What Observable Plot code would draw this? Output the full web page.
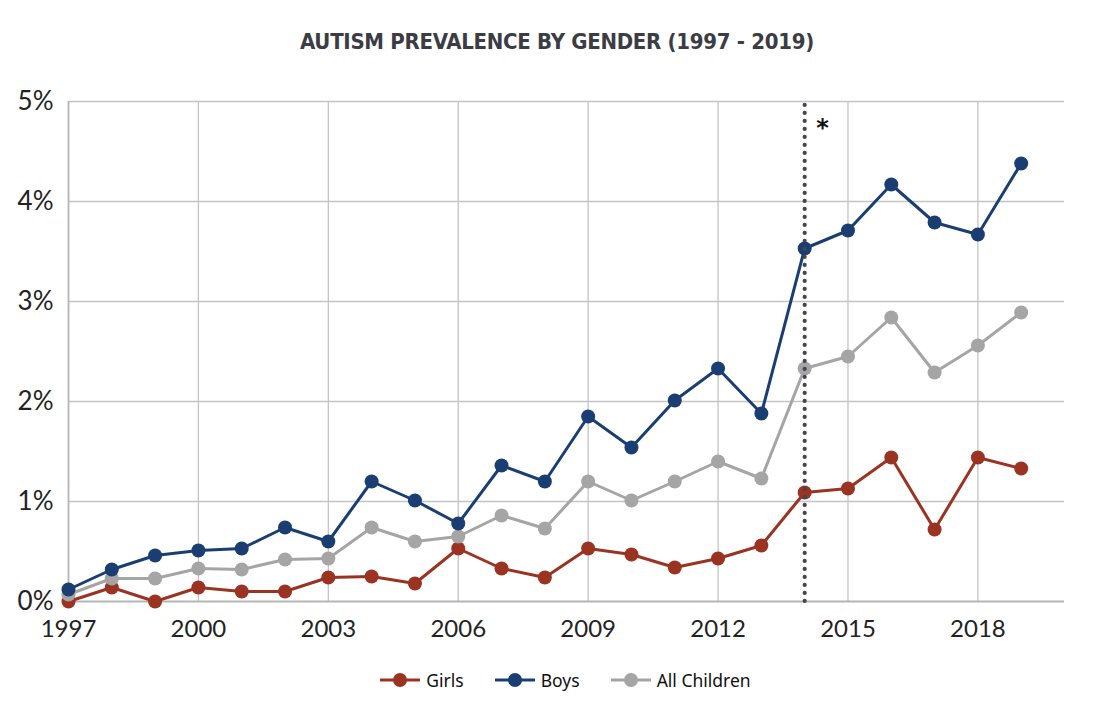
<!DOCTYPE html>
<html>
<head>
<meta charset="utf-8">
<script src="https://cdn.jsdelivr.net/npm/d3@7"></script>
<script src="https://cdn.jsdelivr.net/npm/@observablehq/plot@0.6"></script>
<style>
  html, body { margin: 0; padding: 0; background: #fff; }
  #wrap { width: 1100px; }
  #title { height: 80px; line-height: 84px; text-align: center; font-family: "DejaVu Sans", sans-serif; font-stretch: condensed; font-weight: 900; font-size: 22px; color: #3b3c44; letter-spacing: -0.3px; padding-left: 14px; }
  #legend { display: flex; justify-content: center; align-items: center; gap: 30px; height: 60px; font-family: "Noto Sans", sans-serif; font-size: 17.5px; color: #111; padding-left: 30px; }
  .item { display: flex; align-items: center; gap: 5px; }
</style>
</head>
<body>
<div id="wrap">
  <div id="title">AUTISM PREVALENCE BY GENDER (1997 - 2019)</div>
  <div id="chart"></div>
  <div id="legend"></div>
</div>
<script>
const years = [1997, 1998, 1999, 2000, 2001, 2002, 2003, 2004, 2005, 2006, 2007, 2008, 2009, 2010, 2011, 2012, 2013, 2014, 2015, 2016, 2017, 2018, 2019];
const girls = [0.00, 0.14, 0.00, 0.14, 0.10, 0.10, 0.24, 0.25, 0.18, 0.53, 0.33, 0.24, 0.53, 0.47, 0.34, 0.43, 0.56, 1.09, 1.13, 1.44, 0.72, 1.44, 1.33];
const boys = [0.12, 0.32, 0.46, 0.51, 0.53, 0.74, 0.60, 1.20, 1.01, 0.78, 1.36, 1.20, 1.85, 1.54, 2.01, 2.33, 1.88, 3.53, 3.71, 4.17, 3.79, 3.67, 4.38];
const allChildren = [0.07, 0.23, 0.23, 0.33, 0.32, 0.42, 0.43, 0.74, 0.60, 0.65, 0.86, 0.73, 1.20, 1.01, 1.20, 1.40, 1.23, 2.33, 2.45, 2.84, 2.29, 2.56, 2.89];
const seriesNames = ["Girls", "Boys", "All Children"];
const seriesColors = ["#9b3322", "#1a3e72", "#a5a5a5"];
const xTicks = [1997, 2000, 2003, 2006, 2009, 2012, 2015, 2018];
const yTicks = [0, 1, 2, 3, 4, 5];
const markerYear = 2014;
const markerLabel = "*";

const seriesValues = [girls, boys, allChildren];
const rows = [];
seriesNames.forEach((name, i) => {
  years.forEach((yr, j) => rows.push({series: name, year: yr, value: seriesValues[i][j]}));
});
const drawOrder = ["Girls", "All Children", "Boys"];
const colorOf = Object.fromEntries(seriesNames.map((n, i) => [n, seriesColors[i]]));

const marks = [
  Plot.ruleX(xTicks.slice(1), {y1: 0, y2: 5, stroke: "#c4c4c4", strokeWidth: 1.3}),
  Plot.ruleY(yTicks.slice(1), {x1: 1997, x2: 2020, stroke: "#c4c4c4", strokeWidth: 1.3}),
  Plot.ruleY([0], {x1: 1997, x2: 2020, stroke: "#b5b5b5", strokeWidth: 1.8}),
  Plot.ruleX([1997], {y1: 0, y2: 5, stroke: "#b5b5b5", strokeWidth: 1.8}),
  Plot.axisY(yTicks, {tickSize: 0, tickPadding: 15, fontSize: 26, label: null, tickFormat: d => d + "%", fill: "#222", fontFamily: "Lato, sans-serif"}),
  Plot.axisX(xTicks, {tickSize: 0, tickPadding: 18, fontSize: 24, label: null, tickFormat: d => String(d), fill: "#222", fontFamily: "Lato, sans-serif"})
];
for (const name of drawOrder) {
  const data = rows.filter(r => r.series === name);
  marks.push(Plot.lineY(data, {x: "year", y: "value", stroke: colorOf[name], strokeWidth: 3}));
  marks.push(Plot.dot(data, {x: "year", y: "value", fill: colorOf[name], r: 7}));
}
marks.push(Plot.ruleX([markerYear], {y1: 0, y2: 5, stroke: "#44454f", strokeWidth: 4.2, strokeDasharray: "0.1 7.9", strokeLinecap: "round"}));
marks.push(Plot.text([markerLabel], {x: markerYear + 0.41, y: 4.79, text: d => d, fontSize: 24, fontWeight: "bold", fill: "#111", fontFamily: "DejaVu Sans, sans-serif", dy: 6}));

const chart = Plot.plot({
  width: 1100,
  height: 570,
  marginTop: 21,
  marginBottom: 49,
  marginLeft: 68,
  marginRight: 36,
  x: {domain: [1997, 2020], axis: null},
  y: {domain: [0, 5], axis: null},
  style: {background: "#fff"},
  marks
});
document.getElementById("chart").appendChild(chart);

const legend = document.getElementById("legend");
seriesNames.forEach((name, i) => {
  const item = document.createElement("div");
  item.className = "item";
  item.innerHTML = `<svg width="42" height="16"><line x1="1" x2="41" y1="8" y2="8" stroke="${seriesColors[i]}" stroke-width="3"/><circle cx="21" cy="8" r="7" fill="${seriesColors[i]}"/></svg><span>${name}</span>`;
  legend.appendChild(item);
});
</script>
</body>
</html>
